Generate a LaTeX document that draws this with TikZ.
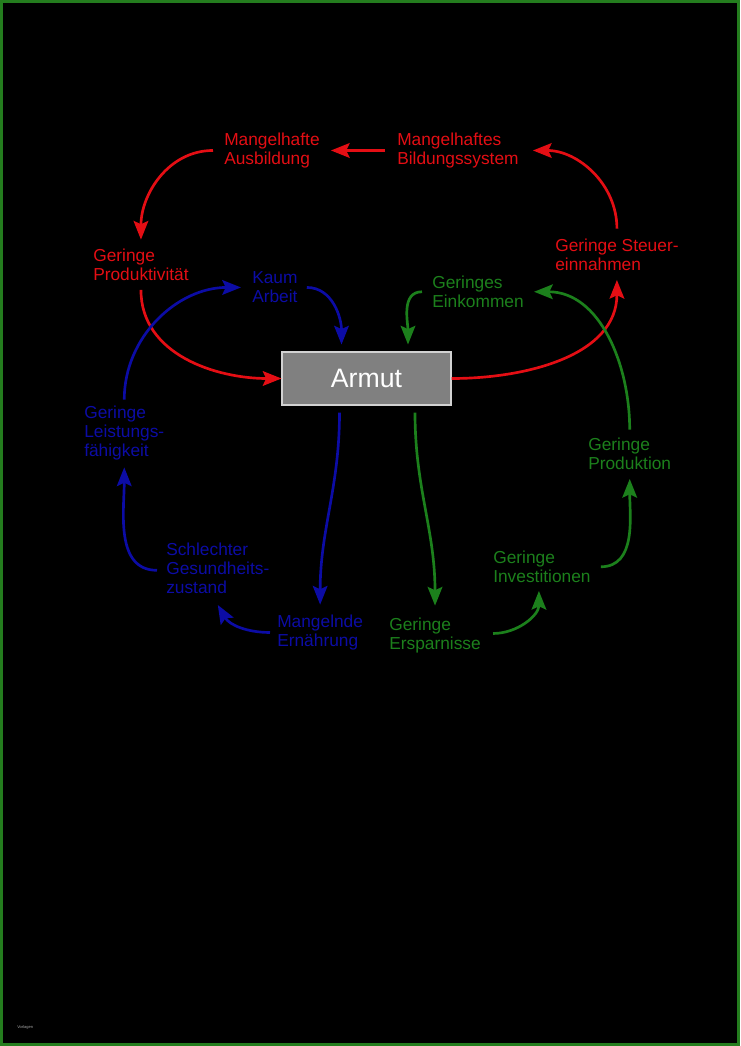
\documentclass[tikz,border=0pt]{standalone}
\usepackage{fontspec}
\setmainfont{Liberation Sans}
\usetikzlibrary{arrows.meta,calc}
\definecolor{loopred}{RGB}{228,14,20}
\definecolor{loopblue}{RGB}{12,12,165}
\definecolor{loopgreen}{RGB}{28,128,28}
\definecolor{framegreen}{RGB}{36,125,30}
\definecolor{boxgray}{RGB}{128,128,128}
\definecolor{boxline}{RGB}{210,210,210}

\begin{document}
\begin{tikzpicture}[x=0.75pt, y=0.75pt,
  every node/.style={font=\fontsize{13}{14.3}\selectfont, align=left, inner sep=0pt, anchor=north west},
  link/.style={line width=2pt, -{Stealth[length=14pt, width=11pt, inset=2.5pt]}}
]
% page and frame
\useasboundingbox (0,0) rectangle (740,-1046);
\fill[black] (0,0) rectangle (740,-1046);
\draw[framegreen, line width=2.4pt] (1.6,-1.6) rectangle (738.4,-1044.4);

\node[fill=boxgray, draw=boxline, line width=0.8pt, text=white, anchor=center,
  minimum width=126.75pt, minimum height=39.75pt, font=\fontsize{20}{24}\selectfont] (armut) at (366.5,-378.5) {Armut};

% red loop
\node[text=loopred] (ausb) at (224,-132.6) {Mangelhafte\\Ausbildung};
\node[text=loopred] (bild) at (397,-132.6) {Mangelhaftes\\Bildungssystem};
\node[text=loopred] (prod) at (93,-248.6) {Geringe\\Produktivität};
\node[text=loopred] (steuer) at (555,-238.6) {Geringe Steuer-\\einnahmen};

% blue loop
\node[text=loopblue] (kaum) at (252,-271.6) {Kaum\\Arbeit};
\node[text=loopblue] (leist) at (84,-405.6) {Geringe\\Leistungs-\\fähigkeit};
\node[text=loopblue] (gesund) at (166,-542.6) {Schlechter\\Gesundheits-\\zustand};
\node[text=loopblue] (ernae) at (277,-614.6) {Mangelnde\\Ernährung};

% green loop
\node[text=loopgreen] (eink) at (432,-275.6) {Geringes\\Einkommen};
\node[text=loopgreen] (produk) at (588,-437.6) {Geringe\\Produktion};
\node[text=loopgreen] (invest) at (493,-550.6) {Geringe\\Investitionen};
\node[text=loopgreen] (erspar) at (389,-617.6) {Geringe\\Ersparnisse};

\node[text=gray!70, anchor=west, font=\fontsize{3}{3}\selectfont] (note) at (17,-1027) {Vorlagen};

\draw[link, loopred] ([shift={(-12,0)}]bild.west) -- ([shift={(11,0)}]ausb.east);
\draw[link, loopred] ([shift={(-11,0)}]ausb.west) to[out=180, in=90] ([shift={(0,9)}]prod.north);
\draw[link, loopred] ([shift={(0,-9)}]prod.south) to[out=-90, in=180] (armut.west);
\draw[link, loopred] (armut.east) to[out=0, in=-90] ([shift={(0,-9)}]steuer.south);
\draw[link, loopred] ([shift={(0,10)}]steuer.north) to[out=90, in=0] ([shift={(14,0)}]bild.east);

\draw[link, loopblue] ([shift={(9,0)}]kaum.east) to[out=0, in=90] ([shift={(-25,7)}]armut.north);
\draw[link, loopblue] ([shift={(-27,-7)}]armut.south) to[out=-90, in=90] ([shift={(0,10)}]ernae.north);
\draw[link, loopblue] ([shift={(-7,0)}]ernae.west) to[out=180, in=-60] ([shift={(0,-11)}]gesund.south);
\draw[link, loopblue] ([shift={(-9,-2)}]gesund.west) to[out=180, in=-90] ([shift={(0,-7)}]leist.south);
\draw[link, loopblue] ([shift={(0,6)}]leist.north) to[out=90, in=180] ([shift={(-11,0)}]kaum.west);

\draw[link, loopgreen] ([shift={(-10,0)}]eink.west) to[out=180, in=90] ([shift={(41.5,7)}]armut.north);
\draw[link, loopgreen] ([shift={(48.5,-7)}]armut.south) to[out=-90, in=90] ([shift={(0,12)}]erspar.north);
\draw[link, loopgreen] ([shift={(12,2)}]erspar.east) to[out=0, in=-90] ([shift={(-3,-8)}]invest.south);
\draw[link, loopgreen] ([shift={(10,0)}]invest.east) to[out=0, in=-90] ([shift={(0,-9)}]produk.south);
\draw[link, loopgreen] ([shift={(0,8)}]produk.north) to[out=90, in=0] ([shift={(10,0)}]eink.east);
\end{tikzpicture}
\end{document}
